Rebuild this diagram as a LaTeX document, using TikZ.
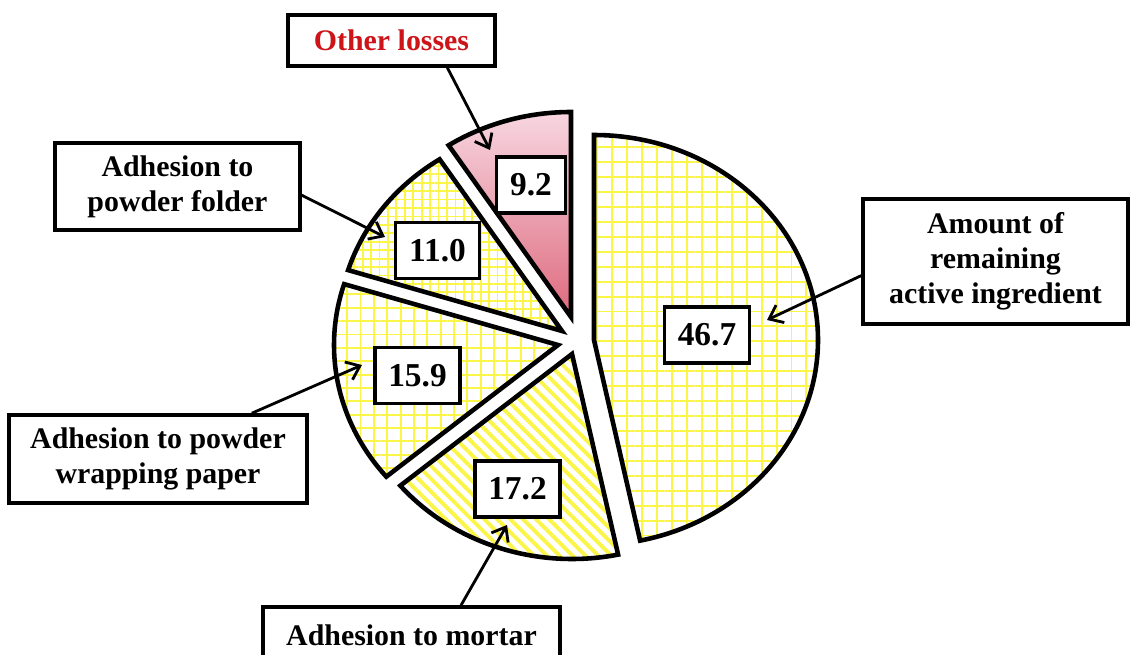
\documentclass[tikz,border=0pt]{standalone}
\usepackage{fontspec}
\setmainfont{Liberation Serif}
\usetikzlibrary{patterns.meta, arrows.meta}
\definecolor{gridYellow}{RGB}{250,245,70}
\definecolor{lossRed}{RGB}{205,20,25}
\definecolor{pinkTop}{RGB}{247,214,224}
\definecolor{pinkBottom}{RGB}{222,106,126}
\tikzstyle{slice} = [draw=black, line width=2.6pt]
\tikzstyle{wideGrid} = [pattern={Hatch[distance=8.5pt, line width=1.1pt]}, pattern color=gridYellow]
\tikzstyle{midGrid} = [pattern={Hatch[distance=7.6pt, line width=1.1pt]}, pattern color=gridYellow]
\tikzstyle{fineGrid} = [pattern={Hatch[distance=4.8pt, line width=1pt]}, pattern color=gridYellow]
\tikzstyle{stripes} = [pattern={Lines[angle=-45, distance=5.2pt, line width=2.2pt]}, pattern color=gridYellow]
\tikzstyle{pinkShade} = [top color=pinkTop, bottom color=pinkBottom]
\tikzstyle{numbox} = [rectangle, draw=black, fill=white, line width=2pt, inner xsep=0.27cm,
minimum height=1.12cm, text centered, font={\fontsize{19}{22}\selectfont\bfseries}]
\tikzstyle{labelbox} = [rectangle, draw=black, fill=white, line width=2pt, align=center,
font={\fontsize{17}{20}\selectfont\bfseries}]
\tikzstyle{arrow} = [line width=1.6pt, -{Straight Barb[length=7pt, width=11pt]}]

\begin{document}
\begin{tikzpicture}[x=0.02cm, y=0.02cm]

    \path[use as bounding box, clip] (0,0) rectangle (1132,-655);

    % exploded slices
    \draw[slice, wideGrid] (594,-340) -- ++(90:224 and 205)
        arc[start angle=90, end angle=-78.12, x radius=224, y radius=205] -- cycle;
    \draw[slice, stripes] (572,-354) -- ++(-78.12:224 and 205)
        arc[start angle=-78.12, end angle=-140.04, x radius=224, y radius=205] -- cycle;
    \draw[slice, midGrid] (558,-345) -- ++(-140.04:224 and 205)
        arc[start angle=-140.04, end angle=-197.28, x radius=224, y radius=205] -- cycle;
    \draw[slice, fineGrid] (562,-331) -- ++(162.72:224 and 205)
        arc[start angle=162.72, end angle=123.12, x radius=224, y radius=205] -- cycle;
    \draw[slice, pinkShade] (571,-317) -- ++(123.12:224 and 205)
        arc[start angle=123.12, end angle=90, x radius=224, y radius=205] -- cycle;

    \node (valRemain) [numbox] at (707,-335) {46.7};
    \node (valMortar) [numbox] at (517.5,-489) {17.2};
    \node (valWrap) [numbox] at (417.5,-375.5) {15.9};
    \node (valFolder) [numbox] at (437.5,-250.5) {11.0};
    \node (valOther) [numbox] at (531,-185) {9.2};

    \node (lblOther) [labelbox, text=lossRed, minimum width=4.14cm, minimum height=1.02cm] at (391.5,-40.5) {Other losses};
    \node (lblFolder) [labelbox, minimum width=4.9cm, minimum height=1.74cm] at (177.5,-186.5) {Adhesion to\\powder folder};
    \node (lblWrap) [labelbox, minimum width=5.96cm, minimum height=1.76cm] at (158,-459) {Adhesion to powder\\wrapping paper};
    \node (lblMortar) [labelbox, minimum width=5.94cm, minimum height=1.12cm] at (411.5,-635) {Adhesion to mortar};
    \node (lblRemain) [labelbox, minimum width=5.3cm, minimum height=2.5cm] at (995.5,-261.5) {Amount of\\remaining\\active ingredient};

    \coordinate (tipOther) at (490,-150);
    \coordinate (tipFolder) at (385,-237);
    \coordinate (tipWrap) at (362,-365);
    \coordinate (tipMortar) at (507,-525);
    \coordinate (tipRemain) at (767,-320);

    \draw[arrow] (lblOther.-26) -- (tipOther);
    \draw[arrow] (lblFolder.-4) -- (tipFolder);
    \draw[arrow] (lblWrap.26) -- (tipWrap);
    \draw[arrow] (lblMortar.31) -- (tipMortar);
    \draw[arrow] (lblRemain.186) -- (tipRemain);

\end{tikzpicture}
\end{document}
